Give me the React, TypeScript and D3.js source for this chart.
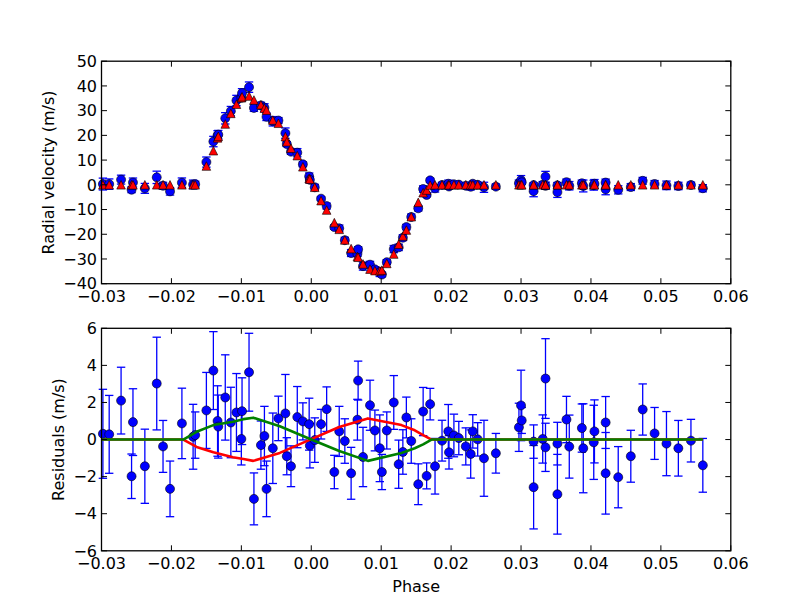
import * as d3 from 'd3'

// orbital phase of each observation
const phase = [
  -0.0298, -0.0289, -0.0272, -0.0257, -0.0255, -0.0238, -0.0221, -0.0212, -0.0202, -0.0185,
  -0.0169, -0.0166, -0.0150, -0.0140, -0.0134, -0.0133, -0.0123, -0.0115, -0.0107, -0.0100,
  -0.0099, -0.0089, -0.0082, -0.0072, -0.0067, -0.0064, -0.0055, -0.0047, -0.0037, -0.0035,
  -0.0029, -0.0020, -0.0012, -0.0003, -0.0002, 0.0005, 0.0014, 0.0022, 0.0033, 0.0040,
  0.0048, 0.0057, 0.0066, 0.0067, 0.0074, 0.0084, 0.0091, 0.0098, 0.0101, 0.0108,
  0.0118, 0.0125, 0.0131, 0.0136, 0.0143, 0.0153, 0.0160, 0.0165, 0.0170, 0.0177,
  0.0187, 0.0196, 0.0197, 0.0204, 0.0211, 0.0221, 0.0228, 0.0231, 0.0238, 0.0247,
  0.0264, 0.0297, 0.0300, 0.0301, 0.0318, 0.0318, 0.0331, 0.0335, 0.0335, 0.0352,
  0.0352, 0.0365, 0.0369, 0.0387, 0.0389, 0.0404, 0.0405, 0.0421, 0.0421, 0.0439,
  0.0457, 0.0474, 0.0491, 0.0508, 0.0525, 0.0543, 0.0560,
]

// measured radial velocity (m/s)
const rv = [
  0.31, 0.28, 2.1, -1.98, 0.94, -1.44, 3.02, -0.37, -2.66, 0.87,
  0.15, 0.24, 9.2, 17.5, 20.0, 20.3, 26.9, 29.8, 34.1, 35.2,
  37.1, 39.5, 31.1, 32.1, 31.2, 27.5, 25.7, 26.0, 20.9, 16.5,
  13.4, 13.0, 8.3, 3.4, 2.0, -1.0, -5.6, -8.6, -17.1, -17.6,
  -22.4, -27.6, -27.9, -26.1, -32.9, -32.3, -34.2, -35.3, -36.3, -31.3,
  -26.0, -25.3, -21.4, -17.1, -13.0, -9.5, -1.7, -4.1, 1.8, -1.44,
  -0.06, 0.44, -0.69, 0.22, 0.08, -0.37, -0.78, 0.44, 0.01, -1.01,
  -0.74, 0.66, 1.84, 1.03, -0.11, -2.57, 0.03, 3.29, -0.42, -0.22,
  -2.95, 1.08, -0.38, 0.62, -0.47, -0.15, 0.44, 0.92, -1.82, -2.03,
  -0.9, 1.62, 0.33, -0.22, -0.47, -0.06, -1.39,
]

// model velocity (red triangles)
const rvModel = [
  0, 0, 0, 0, 0, 0, 0, 0, 0, 0,
  0, 0, 7.6, 13.8, 19.0, 19.6, 24.6, 28.9, 32.6, 35.2,
  35.6, 35.9, 34.3, 32.4, 31.0, 30.2, 26.2, 24.9, 19.5, 17.4,
  14.8, 11.8, 7.3, 2.6, 2.3, -1.0, -6.4, -10.2, -15.3, -18.0,
  -22.3, -25.8, -29.0, -29.3, -32.0, -34.1, -34.7, -34.8, -34.5, -31.8,
  -28.0, -24.0, -20.7, -18.3, -12.9, -7.1, -3.2, -2.1, -0.1, 0,
  0, 0, 0, 0, 0, 0, 0, 0, 0, 0,
  0, 0, 0, 0, 0, 0, 0, 0, 0, 0,
  0, 0, 0, 0, 0, 0, 0, 0, 0, 0,
  0, 0, 0, 0, 0, 0, 0,
]

// data minus model (m/s)
const resid = [
  0.31, 0.28, 2.1, -1.98, 0.94, -1.44, 3.02, -0.37, -2.66, 0.87,
  0.15, 0.24, 1.57, 3.72, 1.0, 0.7, 2.27, 0.92, 1.46, 0.03,
  1.53, 3.63, -3.2, -0.3, 0.19, -2.66, -0.47, 1.14, 1.41, -0.9,
  -1.44, 1.21, 0.98, 0.83, -0.33, -0.03, 0.83, 1.64, -1.75, 0.44,
  -0.08, -1.82, 1.07, 3.18, -0.94, 1.85, 0.49, -0.47, -1.75, 0.49,
  2.0, -1.33, -0.67, 1.19, -0.08, -2.41, 1.51, -1.96, 1.91, -1.44,
  -0.06, 0.44, -0.69, 0.22, 0.08, -0.37, -0.78, 0.44, 0.01, -1.01,
  -0.74, 0.66, 1.84, 1.03, -0.11, -2.57, 0.03, 3.29, -0.42, -0.22,
  -2.95, 1.08, -0.38, 0.62, -0.47, -0.15, 0.44, 0.92, -1.82, -2.03,
  -0.9, 1.62, 0.33, -0.22, -0.47, -0.06, -1.39,
]

// 1-sigma errors (m/s)
const err = [
  2.4, 2.1, 1.8, 1.2, 1.8, 2.0, 2.5, 1.4, 1.5, 1.9,
  1.75, 1.25, 2.05, 2.1, 1.9, 1.7, 2.3, 1.9, 2.1, 1.4,
  1.8, 2.1, 1.4, 1.3, 1.6, 1.5, 1.9, 1.2, 2.1, 1.0,
  1.1, 1.65, 1.0, 1.4, 1.2, 1.2, 0.8, 1.2, 0.9, 1.35,
  1.2, 1.4, 1.1, 1.05, 1.6, 1.35, 1.1, 1.8, 0.95, 1.0,
  1.45, 1.3, 1.2, 1.1, 1.2, 1.1, 1.3, 0.7, 0.85, 1.5,
  1.1, 1.45, 0.9, 1.15, 0.9, 1.0, 1.3, 0.9, 0.9, 2.05,
  1.07, 1.3, 1.9, 0.7, 0.9, 2.25, 1.3, 2.15, 1.3, 1.15,
  2.15, 1.25, 1.7, 1.3, 2.4, 2.0, 1.7, 1.4, 2.2, 1.65,
  1.4, 1.38, 1.4, 1.73, 1.5, 1.15, 1.45,
]

// model curves in the residual panel
const greenPhase = [-0.03, -0.0183, -0.0164, -0.014, -0.0112, -0.0097, -0.0083, -0.0045, 0.0, 0.004, 0.0081, 0.0129, 0.0148, 0.016, 0.0172, 0.056]
const greenVal = [0, 0, 0.42, 0.78, 0.96, 1.1, 1.18, 0.72, 0.0, -0.62, -1.15, -0.72, -0.47, -0.26, 0, 0]
const redPhase = [-0.03, -0.0183, -0.0164, -0.014, -0.0112, -0.0097, -0.0083, -0.0045, 0.0, 0.004, 0.0081, 0.0129, 0.0148, 0.016, 0.0172, 0.056]
const redVal = [0, 0, -0.4, -0.68, -0.95, -1.05, -1.15, -0.72, 0.02, 0.68, 1.14, 0.78, 0.5, 0.24, 0, 0]

const xTicks = [-0.03, -0.02, -0.01, 0.0, 0.01, 0.02, 0.03, 0.04, 0.05, 0.06]
const rvTicks = [-40, -30, -20, -10, 0, 10, 20, 30, 40, 50]
const resTicks = [-6, -4, -2, 0, 2, 4, 6]

const W = 812, H = 612
const left = 101.5, right = 730.8
const top1 = 61.2, bot1 = 283.7
const top2 = 328.3, bot2 = 550.8
const font = '"DejaVu Sans", sans-serif'
const fs = 16
const tickLen = 5.5
const cap = 4.2

const fmt = (v: number, d: number) => v.toFixed(d).replace('-', '\u2212')

function Frame({ y, x, yt, top, bot }: any) {
  return (
    <g>
      <rect x={left} y={top} width={right - left} height={bot - top} fill="none" stroke="black" strokeWidth={1.3} />
      {xTicks.map((t) => (
        <g key={'x' + t}>
          <line x1={x(t)} x2={x(t)} y1={bot} y2={bot - tickLen} stroke="black" />
          <line x1={x(t)} x2={x(t)} y1={top} y2={top + tickLen} stroke="black" />
          <text x={x(t)} y={bot + 18.5} textAnchor="middle" fontFamily={font} fontSize={fs}>
            {fmt(Math.abs(t) < 1e-9 ? 0 : t, 2)}
          </text>
        </g>
      ))}
      {yt.map((t: number) => (
        <g key={'y' + t}>
          <line x1={left} x2={left + tickLen} y1={y(t)} y2={y(t)} stroke="black" />
          <line x1={right} x2={right - tickLen} y1={y(t)} y2={y(t)} stroke="black" />
          <text x={97} y={y(t)} dy="0.36em" textAnchor="end" fontFamily={font} fontSize={fs}>
            {fmt(t, 0)}
          </text>
        </g>
      ))}
    </g>
  )
}

export default function App() {
  const x = d3.scaleLinear().domain([-0.03, 0.06]).range([left, right])
  const y1 = d3.scaleLinear().domain([-40, 50]).range([bot1, top1])
  const y2 = d3.scaleLinear().domain([-6, 6]).range([bot2, top2])

  const line = d3.line<[number, number]>()
    .x((d) => x(d[0]))
    .y((d) => y2(d[1]))
  const green = line(greenPhase.map((p, i) => [p, greenVal[i]]))
  const red = line(redPhase.map((p, i) => [p, redVal[i]]))

  const tri = (s: number) => `M0,${-s / 2}L${-s / 2},${s / 2}L${s / 2},${s / 2}Z`

  return (
    <svg width={W} height={H} style={{ position: 'absolute', left: 0, top: 0, background: 'white' }}>
      {/* top panel: radial velocities */}
      {phase.map((p, i) => (
        <g key={'e1' + i} stroke="blue" strokeWidth={1.3}>
          <line x1={x(p)} x2={x(p)} y1={y1(rv[i] - err[i])} y2={y1(rv[i] + err[i])} />
          <line x1={x(p) - cap} x2={x(p) + cap} y1={y1(rv[i] - err[i])} y2={y1(rv[i] - err[i])} />
          <line x1={x(p) - cap} x2={x(p) + cap} y1={y1(rv[i] + err[i])} y2={y1(rv[i] + err[i])} />
        </g>
      ))}
      {phase.map((p, i) => (
        <circle key={'c1' + i} cx={x(p)} cy={y1(rv[i])} r={4.5} fill="blue" stroke="black" strokeWidth={0.6} />
      ))}
      {phase.map((p, i) => (
        <path key={'t' + i} d={tri(8.6)} transform={`translate(${x(p)},${y1(rvModel[i])})`} fill="red" stroke="black" strokeWidth={0.6} />
      ))}
      <Frame y={y1} x={x} yt={rvTicks} top={top1} bot={bot1} />

      {/* bottom panel: residuals */}
      {phase.map((p, i) => (
        <g key={'e2' + i} stroke="blue" strokeWidth={1.3}>
          <line x1={x(p)} x2={x(p)} y1={y2(resid[i] - err[i])} y2={y2(resid[i] + err[i])} />
          <line x1={x(p) - cap} x2={x(p) + cap} y1={y2(resid[i] - err[i])} y2={y2(resid[i] - err[i])} />
          <line x1={x(p) - cap} x2={x(p) + cap} y1={y2(resid[i] + err[i])} y2={y2(resid[i] + err[i])} />
        </g>
      ))}
      {phase.map((p, i) => (
        <circle key={'c2' + i} cx={x(p)} cy={y2(resid[i])} r={4.5} fill="blue" stroke="black" strokeWidth={0.6} />
      ))}
      <path d={red ?? ''} fill="none" stroke="red" strokeWidth={2.6} strokeLinejoin="round" />
      <path d={green ?? ''} fill="none" stroke="green" strokeWidth={2.6} strokeLinejoin="round" />
      <Frame y={y2} x={x} yt={resTicks} top={top2} bot={bot2} />

      <text transform={`translate(54,${(top1 + bot1) / 2}) rotate(-90)`} textAnchor="middle" fontFamily={font} fontSize={fs}>
        Radial velocity (m/s)
      </text>
      <text transform={`translate(64,${(top2 + bot2) / 2}) rotate(-90)`} textAnchor="middle" fontFamily={font} fontSize={fs}>
        Residuals (m/s)
      </text>
      <text x={(left + right) / 2} y={591.5} textAnchor="middle" fontFamily={font} fontSize={fs}>
        Phase
      </text>
    </svg>
  )
}
